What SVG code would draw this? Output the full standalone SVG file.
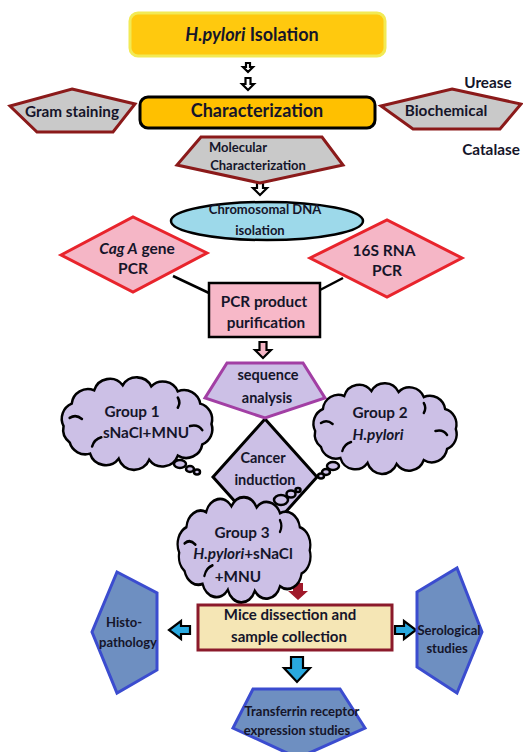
<svg xmlns="http://www.w3.org/2000/svg" width="523" height="752" viewBox="0 0 523 752">
<style>
text{font-family:Lato,"Open Sans","Liberation Sans",sans-serif;font-weight:bold;fill:#15152a;text-anchor:middle}
.t13{font-size:13px}
.t14{font-size:14.5px}
.t15{font-size:15.3px}
.grey{fill:#c9c9c9;stroke:#8b1a1a;stroke-width:3;stroke-linejoin:miter}
.pink{fill:#f5b6c6;stroke:#e8242c;stroke-width:3}
.lav{fill:#ccc0e6}
.cloud{fill:#ccc0e6;stroke:#000;stroke-width:2.5;vector-effect:non-scaling-stroke}
.curl{fill:none;stroke:#000;stroke-width:2.5;vector-effect:non-scaling-stroke;stroke-linecap:round}
.blue{fill:#6e8fc1;stroke:#3b4ccf;stroke-width:3}
.arw{stroke:#000;stroke-width:2.2;stroke-linejoin:miter}
</style>
<defs>
<path id="cloudShape" d="M -72 4 A 16 16 0 0 1 -64 -18 A 16 16 0 0 1 -42 -31 A 16 16 0 0 1 -14 -36 A 16 16 0 0 1 14 -35 A 16 16 0 0 1 40 -30 A 16 16 0 0 1 62 -18 A 16 16 0 0 1 73 2 A 16 16 0 0 1 64 22 A 16 16 0 0 1 40 33 A 16 16 0 0 1 12 37 A 16 16 0 0 1 -18 36 A 16 16 0 0 1 -46 31 A 16 16 0 0 1 -66 20 A 16 16 0 0 1 -72 4 Z"/>
<path id="cloudCurls" d="M -66 -4 q 6 -4 12 1 M 52 4 q 8 -2 12 4 M -44 24 q 2 -7 9 -9 M 40 -24 q 3 5 0 10"/>
<path id="cloudCurls3" d="M -66 -4 q 6 -4 12 1 M -44 24 q 2 -7 9 -9 M 40 -24 q 3 5 0 10"/>
</defs>

<g id="connectors">
  <path class="arw" fill="#fff" d="M246 63 L250 63 L250 67 L253 67 L248 72 L243 67 L246 67 Z"/>
  <path class="arw" fill="#fff" d="M245.5 78 L250.5 78 L250.5 84 L254 84 L248 90 L242 84 L245.5 84 Z"/>
  <path class="arw" fill="#fff" d="M257 181 L263 181 L263 188 L267 188 L260 195 L253 188 L257 188 Z"/>
  <line x1="173" y1="276" x2="209" y2="293" stroke="#000" stroke-width="2.5"/>
  <line x1="320" y1="290" x2="343" y2="278" stroke="#000" stroke-width="2.5"/>
  <path class="arw" fill="#f5b6c6" d="M259.5 342 L266.5 342 L266.5 350 L271 350 L263 358 L255 350 L259.5 350 Z"/>
  <path fill="#a0192a" d="M293 583 L303 583 L303 591 L308 591 L298 600 L288 591 L293 591 Z"/>
  <path class="arw" fill="#29a9e0" d="M190 626 L181 626 L181 621 L169 630 L181 639 L181 634 L190 634 Z"/>
  <path class="arw" fill="#29a9e0" d="M395 626 L404 626 L404 621 L416 630 L404 639 L404 634 L395 634 Z"/>
  <path class="arw" fill="#29a9e0" d="M291 657 L303 657 L303 668 L310 668 L297 682 L284 668 L291 668 Z"/>
</g>

<g id="isolation">
  <rect x="130" y="13" width="255" height="43" rx="8" fill="#ffc90e" stroke="#f2ea55" stroke-width="3"/>
  <text x="252" y="41" style="font-size:18px"><tspan font-style="italic">H.pylori</tspan> Isolation</text>
</g>

<g id="characterization">
  <rect x="140" y="97" width="235" height="31" rx="8" fill="#ffc000" stroke="#000" stroke-width="3"/>
  <text x="257" y="117" style="font-size:18px">Characterization</text>
</g>

<g id="gram">
  <polygon class="grey" points="72,89 135,104 113,132 37,132 10,106"/>
  <text x="72" y="117" class="t15">Gram staining</text>
</g>

<g id="biochemical">
  <polygon class="grey" points="452,89 521,104 500,129 413,129 381,106"/>
  <text x="446" y="116" class="t15">Biochemical</text>
  <text x="488" y="88" class="t15">Urease</text>
  <text x="491" y="155" class="t15">Catalase</text>
</g>

<g id="molecular">
  <polygon class="grey" points="201,137 322,137 343,165 260,183 177,165"/>
  <text x="238" y="152" class="t13">Molecular</text>
  <text x="258" y="170" class="t13">Characterization</text>
</g>

<g id="dna">
  <ellipse cx="267" cy="221" rx="96" ry="19" fill="#9dd9ea" stroke="#000" stroke-width="2.5"/>
  <text x="265" y="214" class="t13">Chromosomal DNA</text>
  <text x="260" y="235" class="t13">isolation</text>
</g>

<g id="cagA">
  <polygon class="pink" points="61,255 133,217 207,253 133,292"/>
  <text x="137" y="254" style="font-size:15.5px"><tspan font-style="italic">Cag A</tspan> gene</text>
  <text x="133" y="274" style="font-size:15.5px">PCR</text>
</g>

<g id="rna16s">
  <polygon class="pink" points="310,258 387,220 462,258 387,297"/>
  <text x="384" y="256" style="font-size:15.5px">16S RNA</text>
  <text x="387" y="276" style="font-size:15.5px">PCR</text>
</g>

<g id="pcr">
  <rect x="209" y="283" width="111" height="54" fill="#f7b8c8" stroke="#000" stroke-width="2.5"/>
  <text x="264" y="307" class="t15">PCR product</text>
  <text x="266" y="328" class="t15">purification</text>
</g>

<g id="cancer">
  <polygon class="lav" points="265,419 317,477 265,535 213,477" stroke="#000" stroke-width="3"/>
  <text x="263" y="463" class="t14">Cancer</text>
  <text x="265" y="485" class="t14">induction</text>
</g>

<g id="sequence">
  <polygon class="lav" points="227,363 303,363 325,398 265,418 205,398" stroke="#a23fa4" stroke-width="3"/>
  <text x="268" y="380" class="t14">sequence</text>
  <text x="267" y="403" class="t14">analysis</text>
</g>

<g id="group1">
  <use href="#cloudShape" class="cloud" transform="translate(137,422) scale(1.02,1.02)"/>
  <use href="#cloudCurls" class="curl" transform="translate(137,422) scale(1.02,1.02)"/>
  <ellipse class="cloud" cx="180" cy="464" rx="6" ry="4"/>
  <ellipse class="cloud" cx="190" cy="469" rx="4" ry="3"/>
  <ellipse class="cloud" cx="197" cy="472" rx="3" ry="2.5"/>
  <text x="132" y="417" class="t15">Group 1</text>
  <text x="146" y="438" class="t15">sNaCl+MNU</text>
</g>

<g id="group2">
  <use href="#cloudShape" class="cloud" transform="translate(385,427) scale(0.97,1)"/>
  <use href="#cloudCurls" class="curl" transform="translate(385,427) scale(0.97,1)"/>
  <ellipse class="cloud" cx="333" cy="466" rx="6" ry="4"/>
  <ellipse class="cloud" cx="326" cy="472" rx="4" ry="3"/>
  <ellipse class="cloud" cx="321" cy="476" rx="3" ry="2.5"/>
  <text x="380" y="418" class="t15">Group 2</text>
  <text x="378" y="440" class="t15" font-style="italic">H.pylori</text>
</g>

<g id="group3">
  <use href="#cloudShape" class="cloud" transform="translate(244,548) scale(0.9,1.16)"/>
  <use href="#cloudCurls3" class="curl" transform="translate(244,548) scale(0.9,1.16)"/>
  <ellipse class="cloud" cx="281" cy="500" rx="7" ry="5"/>
  <ellipse class="cloud" cx="291" cy="494" rx="4.5" ry="3.5"/>
  <ellipse class="cloud" cx="298" cy="490" rx="2.5" ry="2"/>
  <text x="242" y="538" class="t15">Group 3</text>
  <text x="243" y="559" class="t15"><tspan font-style="italic">H.pylori</tspan>+sNaCl</text>
  <text x="238" y="582" class="t15">+MNU</text>
</g>

<g id="mice">
  <rect x="198" y="605" width="194" height="45" fill="#f5e6b5" stroke="#8b1a2b" stroke-width="3"/>
  <text x="290" y="620" style="font-size:15px">Mice dissection and</text>
  <text x="289" y="642" style="font-size:15px">sample collection</text>
</g>

<g id="histo">
  <polygon class="blue" points="117,572 157,593 157,670 117,693 92,632"/>
  <text x="124" y="627" class="t13">Histo-</text>
  <text x="128" y="647" class="t13">pathology</text>
</g>

<g id="serological">
  <polygon class="blue" points="417,592 457,568 482,632 457,693 417,667"/>
  <text x="449" y="635" class="t13">Serological</text>
  <text x="447" y="653" class="t13">studies</text>
</g>

<g id="transferrin">
  <polygon class="blue" points="253,689 340,689 365,728 298,758 233,728"/>
  <text x="302" y="716" class="t13">Transferrin receptor</text>
  <text x="297" y="735" class="t13">expression studies</text>
</g>
</svg>
